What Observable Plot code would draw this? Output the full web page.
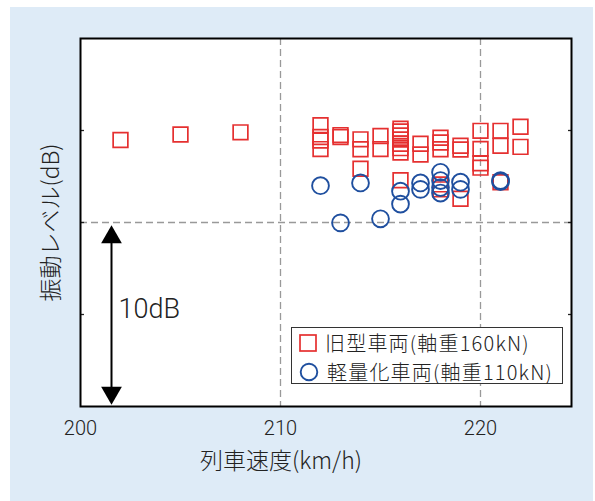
<!DOCTYPE html>
<html><head><meta charset="utf-8">
<script src="https://cdn.jsdelivr.net/npm/d3@7"></script>
<script src="https://cdn.jsdelivr.net/npm/@observablehq/plot@0.6"></script>
<style>
html,body{margin:0;padding:0;background:#fff;}
#wrap{position:relative;width:595px;height:501px;overflow:hidden;}
#bg{position:absolute;left:10px;top:7px;width:583px;height:494px;background:#deebf7;}
#chart{position:absolute;left:0;top:0;}
#legend{position:absolute;left:291px;top:327px;width:272px;height:57px;box-sizing:border-box;border:1px solid #333;background:#fff;font-family:"Noto Sans CJK JP",sans-serif;font-weight:300;font-size:20px;letter-spacing:1.2px;line-height:1;color:#222;}
.row{position:absolute;left:0;height:24px;display:flex;align-items:center;white-space:nowrap;line-height:1;}
.row span{line-height:1;display:inline-block;}
.row svg{margin-left:7px;margin-right:8px;}
</style></head>
<body>
<div id="wrap"><div id="bg"></div><div id="chart"></div><div id="legend"></div></div>
<script>
// ---- data ----
const xTicks = [200, 210, 220];
const yTicks = [5, 10, 15];
const xGrid = [210, 220];
const yGrid = [10];
const xTitle = "列車速度(km/h)";
const yTitle = "振動レベル(dB)";
const seriesNames = ["旧型車両(軸重160kN)", "軽量化車両(軸重110kN)"];

// 旧型車両 (squares)
const oldSpeed = [202, 205, 208,
  212, 212, 212, 212,
  213, 213,
  214, 214, 214,
  215, 215,
  216, 216, 216, 216, 216, 216, 216, 216,
  217, 217,
  218, 218, 218, 218, 218,
  219, 219, 219,
  220, 220, 220, 220,
  221, 221, 221,
  222, 222];
const oldLevel = [14.48, 14.78, 14.9,
  15.29, 14.65, 14.46, 13.99,
  14.75, 14.65,
  14.52, 13.98, 12.92,
  14.7, 13.99,
  15.1, 14.95, 14.73, 14.51, 14.28, 14.04, 13.8, 12.3,
  14.28, 13.7,
  14.61, 14.35, 13.98, 12.07, 11.8,
  14.17, 13.97, 11.29,
  14.98, 14.0, 13.22, 12.98,
  14.98, 14.17, 12.19,
  15.2, 14.11];

// 軽量化車両 (circles)
const lightSpeed = [212, 213, 214, 215, 216, 216, 217, 217, 218, 218, 218, 218, 219, 219, 221, 221];
const lightLevel = [12.0, 9.98, 12.15, 10.2, 11.7, 11.0, 12.15, 11.8, 12.73, 12.28, 11.9, 11.6, 12.19, 11.8, 12.28, 12.22];

// annotation: 10dB arrow
const arrowSpeed = [201.55];
const arrowTop = [9.85];
const arrowBottom = [0.1];
const arrowLabel = ["10dB"];
const arrowLabelLevel = [5.3];

const red = "#e53030";
const blue = "#1f4f9f";

const oldData = oldSpeed.map((s, i) => ({speed: s, level: oldLevel[i]}));
const lightData = lightSpeed.map((s, i) => ({speed: s, level: lightLevel[i]}));
const arrowData = arrowSpeed.map((s, i) => ({speed: s, top: arrowTop[i], bottom: arrowBottom[i], label: arrowLabel[i], ly: arrowLabelLevel[i]}));

const chart = Plot.plot({
  width: 595,
  height: 501,
  marginLeft: 80,
  marginRight: 24,
  marginTop: 38,
  marginBottom: 95,
  style: {background: "transparent", fontFamily: "Roboto, sans-serif", color: "#222"},
  x: {domain: [200, 224.55]},
  y: {domain: [0, 20]},
  marks: [
    Plot.frame({fill: "white", stroke: null}),
    Plot.ruleX(xGrid, {stroke: "#999", strokeWidth: 1.3, strokeDasharray: "7,4"}),
    Plot.ruleY(yGrid, {stroke: "#999", strokeWidth: 1.3, strokeDasharray: "7,4"}),
    Plot.axisX({ticks: xTicks, tickSize: 0, tickPadding: 14, fontSize: 20, fontWeight: 300, label: null, tickFormat: d => String(d)}),
    Plot.axisY({anchor: "left", ticks: yTicks, tickSize: 4, dx: 4, tickFormat: () => "", label: null, strokeWidth: 1.3}),
    Plot.axisY({anchor: "right", ticks: yTicks, tickSize: 4, dx: -4, tickFormat: () => "", label: null, strokeWidth: 1.3}),
    Plot.text([xTitle], {frameAnchor: "bottom", dx: -45, dy: 62, fontSize: 23, fontWeight: 300, fontFamily: "Noto Sans CJK JP", fill: "#222", text: d => d}),
    Plot.text([yTitle], {frameAnchor: "left", textAnchor: "middle", dx: -29, rotate: -90, fontSize: 23, fontWeight: 300, fontFamily: "Noto Sans CJK JP", fill: "#222", text: d => d}),
    // annotation arrow
    Plot.ruleX(arrowData, {x: "speed", y1: "top", y2: "bottom", stroke: "black", strokeWidth: 2, insetTop: 12, insetBottom: 12}),
    Plot.dot(arrowData, {x: "speed", y: "top", symbol: "triangle", r: 7.7, fill: "black", stroke: null, dy: 12}),
    Plot.dot(arrowData, {x: "speed", y: "bottom", symbol: "triangle", r: 7.7, fill: "black", stroke: null, dy: -12, rotate: 180}),
    Plot.text(arrowData, {x: "speed", y: "ly", text: "label", textAnchor: "start", dx: 7, fontSize: 27, fontWeight: 300, fill: "#222", fontFamily: "Roboto, sans-serif"}),
    // data
    Plot.dot(oldData, {x: "speed", y: "level", symbol: "square", r: 8.3, stroke: red, strokeWidth: 1.7, fill: "none"}),
    Plot.dot(lightData, {x: "speed", y: "level", symbol: "circle", r: 8.4, stroke: blue, strokeWidth: 1.9, fill: "none"}),
    Plot.frame({stroke: "black", strokeWidth: 2})
  ]
});
document.getElementById("chart").appendChild(chart);

// legend
const legend = document.getElementById("legend");
const symbols = [
  `<svg width="18" height="18"><rect x="1" y="1" width="16" height="16" fill="none" stroke="${red}" stroke-width="1.7"/></svg>`,
  `<svg width="20" height="20"><circle cx="10" cy="10" r="8.3" fill="none" stroke="${blue}" stroke-width="1.9"/></svg>`
];
seriesNames.forEach((name, i) => {
  const row = document.createElement("div");
  row.className = "row";
  row.style.top = (i === 0 ? 2.5 : 31.5) + "px";
  row.innerHTML = symbols[i] + `<span>${name}</span>`;
  legend.appendChild(row);
});
</script>
</body></html>
